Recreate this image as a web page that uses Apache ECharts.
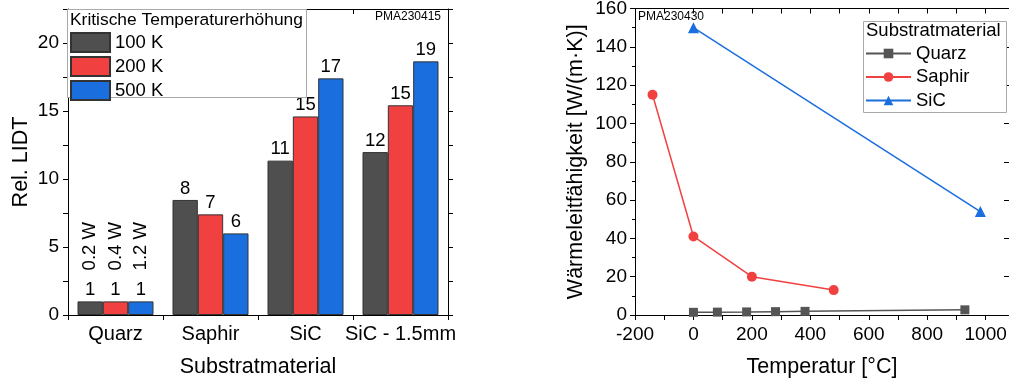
<!DOCTYPE html>
<html>
<head>
<meta charset="utf-8">
<script src="https://cdn.jsdelivr.net/npm/echarts@6/dist/echarts.min.js"></script>
<style>
html,body{margin:0;padding:0;background:#fff;}
#chart{width:1009px;height:380px;}
</style>
</head>
<body>
<div id="chart"></div>
<script>
// ---- Left chart data (Rel. LIDT) ----
const categories = ['Quarz', 'Saphir', 'SiC', 'SiC - 1.5mm'];
const seriesNames = ['100 K', '200 K', '500 K'];
const lidt100 = [1, 8.46, 11.35, 11.98];
const lidt200 = [1, 7.40, 14.6, 15.42];
const lidt500 = [1, 6.0, 17.4, 18.65];
const powerLabels = ['0.2 W', '0.4 W', '1.2 W'];
const leftYTicks = [0, 5, 10, 15, 20];

// ---- Right chart data (Wärmeleitfähigkeit) ----
const quarzTemp = [0, 82, 182, 281, 382, 929];
const quarzK = [1.4, 1.5, 1.6, 1.75, 1.9, 2.7];
const saphirTemp = [-140, 0, 200, 480];
const saphirK = [115, 41, 20, 13];
const sicTemp = [0, 982];
const sicK = [150, 54];
const rightLegend = ['Quarz', 'Saphir', 'SiC'];

const barColors = ['#4f4f4f', '#f04040', '#1a6ede'];
const lineColors = ['#555555', '#f04040', '#1a6ede'];
const FONT = 'Liberation Sans, Arial, sans-serif';

const zip = (a, b) => a.map((v, i) => [v, b[i]]);

const chart = echarts.init(document.getElementById('chart'), null, {renderer: 'canvas'});

const axisLine = {show: true, onZero: false, lineStyle: {color: '#000', width: 1}};
const numStyle = {color: '#000', fontSize: 19, fontFamily: FONT};
const catStyle = {color: '#000', fontSize: 20, fontFamily: FONT};
const nameStyle = {color: '#000', fontSize: 21.5, fontFamily: FONT};

const barData = [lidt100, lidt200, lidt500];
const barSeries = barData.map((d, i) => ({
  name: seriesNames[i],
  type: 'bar',
  xAxisIndex: 0,
  yAxisIndex: 0,
  data: d,
  barGap: '0%',
  barCategoryGap: '20%',
  itemStyle: {color: barColors[i], borderColor: '#333', borderWidth: 1},
  label: {
    show: true, position: 'top', distance: 2,
    color: '#000', fontSize: 18.5, fontFamily: FONT,
    formatter: p => String(Math.round(p.value))
  },
  markPoint: {
    symbol: 'circle', symbolSize: 0, silent: true,
    data: [{coord: [categories[0], d[0]], value: powerLabels[i]}],
    label: {
      show: true, position: 'top', distance: 31, rotate: 90,
      align: 'left', verticalAlign: 'middle',
      color: '#000', fontSize: 18.5, fontFamily: FONT,
      formatter: powerLabels[i]
    },
    itemStyle: {color: 'rgba(0,0,0,0)'}
  }
}));

const symbols = ['rect', 'circle', 'triangle'];
const symSizes = [9, 10, 11];
const lineData = [zip(quarzTemp, quarzK), zip(saphirTemp, saphirK), zip(sicTemp, sicK)];
const lineSeries = lineData.map((d, i) => ({
  name: rightLegend[i],
  type: 'line',
  xAxisIndex: 2,
  yAxisIndex: 2,
  data: d,
  symbol: symbols[i],
  symbolSize: symSizes[i],
  showSymbol: true,
  lineStyle: {color: lineColors[i], width: 1.5},
  itemStyle: {color: lineColors[i]},
  emphasis: {disabled: true}
}));

const option = {
  animation: false,
  backgroundColor: '#fff',
  textStyle: {fontFamily: FONT},
  grid: [
    {left: 68, top: 9, width: 380, height: 306, containLabel: false, outerBoundsMode: 'none'},
    {left: 635, top: 8.5, right: 0, height: 306.5, containLabel: false, outerBoundsMode: 'none'}
  ],
  xAxis: [
    {
      type: 'category', gridIndex: 0, data: categories, position: 'bottom',
      axisLine, axisTick: {show: true, inside: false, length: 5, lineStyle: {color: '#000'}},
      axisLabel: Object.assign({margin: 9, interval: 0}, catStyle),
      name: 'Substratmaterial', nameLocation: 'middle', nameGap: 41,
      nameTextStyle: nameStyle,
      splitLine: {show: false}
    },
    {
      type: 'category', gridIndex: 0, data: categories, position: 'top',
      axisLine, axisTick: {show: true, inside: true, length: 5, lineStyle: {color: '#000'}},
      axisLabel: {show: false}, splitLine: {show: false}
    },
    {
      type: 'value', gridIndex: 1, min: -200, max: 1080, interval: 100, position: 'bottom',
      axisLine, axisTick: {show: true, inside: false, length: 5, lineStyle: {color: '#000'}},
      axisLabel: Object.assign({margin: 10, formatter: v => (v % 200 === 0 ? String(v) : '')}, numStyle),
      name: 'Temperatur [°C]', nameLocation: 'middle', nameGap: 41,
      nameTextStyle: nameStyle,
      splitLine: {show: false}
    },
    {
      type: 'value', gridIndex: 1, min: -200, max: 1080, interval: 100, position: 'top',
      axisLine, axisTick: {show: true, inside: true, length: 5, lineStyle: {color: '#000'}},
      axisLabel: {show: false}, splitLine: {show: false}
    }
  ],
  yAxis: [
    {
      type: 'value', gridIndex: 0, min: 0, max: 22.5, interval: 2.5, position: 'left',
      axisLine, axisTick: {show: true, inside: false, length: 5, lineStyle: {color: '#000'}},
      axisLabel: Object.assign({margin: 9, formatter: v => (leftYTicks.indexOf(v) >= 0 ? String(v) : '')}, numStyle),
      name: 'Rel. LIDT', nameLocation: 'middle', nameGap: 36,
      nameTextStyle: nameStyle,
      splitLine: {show: false}
    },
    {
      type: 'value', gridIndex: 0, min: 0, max: 22.5, interval: 2.5, position: 'right',
      axisLine, axisTick: {show: true, inside: false, length: 5, lineStyle: {color: '#000'}},
      axisLabel: {show: false}, splitLine: {show: false}
    },
    {
      type: 'value', gridIndex: 1, min: 0, max: 160, interval: 20, position: 'left',
      axisLine, axisTick: {show: true, inside: false, length: 5, lineStyle: {color: '#000'}},
      minorTick: {show: true, splitNumber: 2, length: 3, lineStyle: {color: '#000'}},
      axisLabel: Object.assign({margin: 8}, numStyle),
      name: 'Wärmeleitfähigkeit [W/(m·K)]', nameLocation: 'middle', nameGap: 48,
      nameTextStyle: nameStyle,
      splitLine: {show: false}
    },
    {
      type: 'value', gridIndex: 1, min: 0, max: 160, interval: 20, position: 'right',
      axisLine: {show: false, onZero: false}, axisTick: {show: true, inside: true, length: 5, lineStyle: {color: '#000'}},
      axisLabel: {show: false}, splitLine: {show: false}
    }
  ],
  legend: [
    {
      data: seriesNames, orient: 'vertical', left: 70, top: 32, itemGap: 3,
      itemWidth: 39, itemHeight: 19, icon: 'rect', z: 20,
      textStyle: {color: '#000', fontSize: 18.5, fontFamily: FONT},
      selectedMode: false, padding: 0
    },
    {
      data: rightLegend, orient: 'vertical', left: 865, top: 44, itemGap: 4.5,
      itemWidth: 45, itemHeight: 12, z: 20,
      textStyle: {color: '#000', fontSize: 18.5, fontFamily: FONT},
      selectedMode: false, padding: 0
    }
  ],
  graphic: [
    {type: 'rect', left: 67, top: 9, shape: {width: 239, height: 88},
     style: {fill: '#fff', stroke: '#aaa', lineWidth: 1}, z: 5},
    {type: 'text', left: 70, top: 12, z: 21,
     style: {text: 'Kritische Temperaturerhöhung', fill: '#000', fontSize: 17.4, fontFamily: FONT}},
    {type: 'text', left: 375, top: 11, z: 21,
     style: {text: 'PMA230415', fill: '#000', fontSize: 12, fontFamily: FONT}},
    {type: 'rect', left: 863, top: 21, shape: {width: 143, height: 91},
     style: {fill: '#fff', stroke: '#aaa', lineWidth: 1}, z: 5},
    {type: 'text', left: 866, top: 21, z: 21,
     style: {text: 'Substratmaterial', fill: '#000', fontSize: 18.5, fontFamily: FONT}},
    {type: 'text', left: 638, top: 11, z: 21,
     style: {text: 'PMA230430', fill: '#000', fontSize: 12, fontFamily: FONT}}
  ],
  series: barSeries.concat(lineSeries)
};
chart.setOption(option);
</script>
</body>
</html>
